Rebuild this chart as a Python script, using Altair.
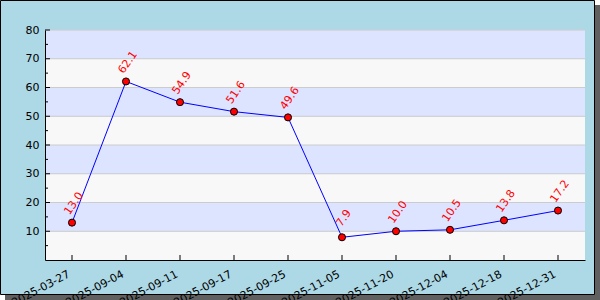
import altair as alt
import pandas as pd

dates = ["2025-03-27", "2025-09-04", "2025-09-11", "2025-09-17", "2025-09-25",
         "2025-11-05", "2025-11-20", "2025-12-04", "2025-12-18", "2025-12-31"]
values = [13.0, 62.1, 54.9, 51.6, 49.6, 7.9, 10.0, 10.5, 13.8, 17.2]
major_ticks = [10, 20, 30, 40, 50, 60, 70, 80]
minor_ticks = [5, 15, 25, 35, 45, 55, 65, 75]
band_lo = [0, 10, 20, 30, 40, 50, 60, 70]
band_hi = [10, 20, 30, 40, 50, 60, 70, 80]
band_kind = ["a", "b", "a", "b", "a", "b", "a", "b"]

W, H = 540, 230
FONT = "DejaVu Sans"

df = pd.DataFrame({"date": dates, "value": values})
bands = pd.DataFrame({"lo": band_lo, "hi": band_hi, "kind": band_kind})
majors = pd.DataFrame({"t": major_ticks})
minors = pd.DataFrame({"t": minor_ticks})
one = pd.DataFrame({"k": [0]})

yscale = alt.Scale(domain=[0, 80], nice=False, zero=True)
xscale = alt.Scale(type="point", padding=0.5)

yaxis = alt.Axis(values=major_ticks, title=None, grid=False, ticks=False,
                 labelPadding=6, domainColor="black", labelColor="black",
                 labelOverlap=False, labelFont=FONT, labelFontSize=11, zindex=2)
xaxis = alt.Axis(title=None, ticks=False, grid=False, labelAngle=332,
                 labelAlign="right", labelBaseline="top", labelPadding=8,
                 labelOffset=-6, domainColor="black", labelColor="black",
                 labelOverlap=False, labelFont=FONT, labelFontSize=11, zindex=2)


def Y(f):
    return alt.Y(f, scale=yscale, axis=yaxis)


xenc = alt.X("date:N", scale=xscale, sort=None, axis=xaxis)

shadow = alt.Chart(one).mark_rect(color="#606060").encode(
    x=alt.value(-40), x2=alt.value(W + 15), y=alt.value(-25), y2=alt.value(H + 40))
frame = alt.Chart(one).mark_rect(fill="#ADD8E6", stroke="black", strokeWidth=1).encode(
    x=alt.value(-44.5), x2=alt.value(549.5), y=alt.value(-29.5), y2=alt.value(264.5))

band_layer = alt.Chart(bands).mark_rect().encode(
    y=Y("lo:Q"), y2="hi:Q",
    x=alt.value(0), x2=alt.value(W),
    color=alt.Color("kind:N", scale=alt.Scale(domain=["a", "b"], range=["#F8F8F8", "#DDE4FF"]),
                    legend=None),
)

grid = alt.Chart(majors).mark_rule(color="#CCCCCC", strokeWidth=1).encode(
    y=Y("t:Q"), x=alt.value(0), x2=alt.value(W))

ytick_major = alt.Chart(majors).mark_rule(color="black").encode(
    y=Y("t:Q"), x=alt.value(0), x2=alt.value(5))
ytick_minor = alt.Chart(minors).mark_rule(color="black").encode(
    y=Y("t:Q"), x=alt.value(0), x2=alt.value(3))

base = alt.Chart(df)
xticks = base.mark_rule(color="black").encode(x=xenc, y=alt.value(H - 5), y2=alt.value(H))

line = base.mark_line(color="#0000FF", strokeWidth=1).encode(x=xenc, y=Y("value:Q"))
points = base.mark_point(shape="circle", filled=True, fill="#FF0000", stroke="black",
                         strokeWidth=1, size=50, opacity=1).encode(x=xenc, y=Y("value:Q"))
labels = base.mark_text(color="#FF0000", font=FONT, fontSize=11, angle=305,
                        align="center", baseline="middle", xOffset=2, yOffset=-19).encode(
    x=xenc, y=Y("value:Q"), text=alt.Text("value:Q", format=".1f"))

chart = alt.layer(
    shadow, frame, band_layer, grid, ytick_major, ytick_minor, xticks, line, points, labels
).properties(
    width=W, height=H,
    autosize=alt.AutoSizeParams(type="none"),
    padding={"left": 45, "top": 30, "right": 15, "bottom": 40},
    background="white",
).configure_view(stroke=None)

chart.save("out.html", embed_options={"renderer": "svg", "actions": False})
